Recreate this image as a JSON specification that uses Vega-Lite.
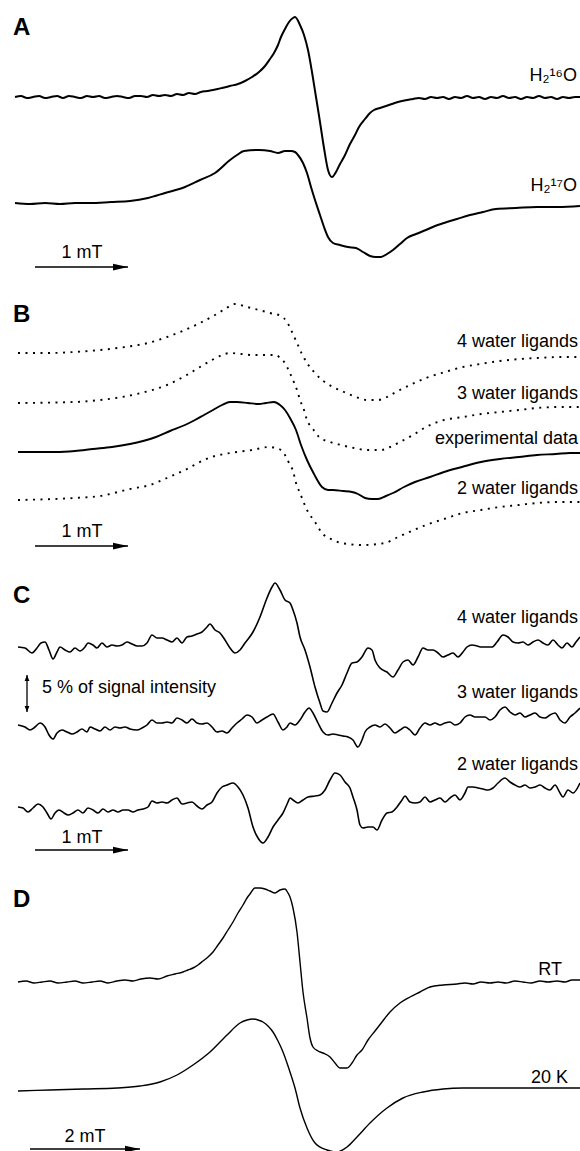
{
"$schema": "https://vega.github.io/schema/vega-lite/v6.json",
"background": "white",
"padding": 0,
"spacing": 0,
"bounds": "flush",
"config": {"view": {"stroke": null}, "font": "Liberation Sans", "text": {"font": "Liberation Sans"}},
"datasets": {
"labels": [
{"panel":"A","kind":"letter","text":"A","x":0.13,"y":25.3},
{"panel":"A","kind":"curve","text":"H₂¹⁶O","x":5.77,"y":20.7},
{"panel":"A","kind":"curve","text":"H₂¹⁷O","x":5.77,"y":9.7},
{"panel":"A","kind":"scale","text":"1 mT","x":0.82,"y":3.0},
{"panel":"B","kind":"letter","text":"B","x":0.13,"y":25.5},
{"panel":"B","kind":"curve","text":"4 water ligands","x":5.78,"y":23.0},
{"panel":"B","kind":"curve","text":"3 water ligands","x":5.78,"y":17.8},
{"panel":"B","kind":"curve","text":"experimental data","x":5.78,"y":13.3},
{"panel":"B","kind":"curve","text":"2 water ligands","x":5.78,"y":8.3},
{"panel":"B","kind":"scale","text":"1 mT","x":0.82,"y":4.0},
{"panel":"C","kind":"letter","text":"C","x":0.13,"y":26.9},
{"panel":"C","kind":"curve","text":"4 water ligands","x":5.78,"y":24.9},
{"panel":"C","kind":"curve","text":"3 water ligands","x":5.78,"y":17.4},
{"panel":"C","kind":"curve","text":"2 water ligands","x":5.78,"y":10.2},
{"panel":"C","kind":"note","text":"5 % of signal intensity","x":0.42,"y":17.9},
{"panel":"C","kind":"scale","text":"1 mT","x":0.82,"y":2.9},
{"panel":"D","kind":"letter","text":"D","x":0.13,"y":24.4},
{"panel":"D","kind":"curve","text":"RT","x":5.62,"y":17.6},
{"panel":"D","kind":"curve","text":"20 K","x":5.68,"y":6.8},
{"panel":"D","kind":"scale","text":"2 mT","x":0.85,"y":0.9}
],
"bars": [
{"panel":"A","x":0.35,"x2":1.28,"y":2.1},
{"panel":"B","x":0.35,"x2":1.28,"y":3.1},
{"panel":"C","x":0.35,"x2":1.28,"y":2.2},
{"panel":"D","x":0.30,"x2":1.40,"y":0.2}
],
"vbars": [
{"panel":"C","x":0.27,"y":16.0,"y2":19.7}
],
"curves": [
{"panel":"A","curve":"H2-16O","x":0.15,"y":19.1},{"panel":"A","curve":"H2-16O","x":0.21,"y":19.2},{"panel":"A","curve":"H2-16O","x":0.27,"y":19.0},{"panel":"A","curve":"H2-16O","x":0.33,"y":19.1},{"panel":"A","curve":"H2-16O","x":0.39,"y":19.2},{"panel":"A","curve":"H2-16O","x":0.45,"y":19.0},{"panel":"A","curve":"H2-16O","x":0.51,"y":19.1},{"panel":"A","curve":"H2-16O","x":0.57,"y":19.2},{"panel":"A","curve":"H2-16O","x":0.63,"y":19.0},{"panel":"A","curve":"H2-16O","x":0.69,"y":19.2},{"panel":"A","curve":"H2-16O","x":0.75,"y":19.1},{"panel":"A","curve":"H2-16O","x":0.81,"y":19.0},{"panel":"A","curve":"H2-16O","x":0.87,"y":19.2},{"panel":"A","curve":"H2-16O","x":0.93,"y":19.1},{"panel":"A","curve":"H2-16O","x":0.99,"y":19.2},{"panel":"A","curve":"H2-16O","x":1.05,"y":19.0},{"panel":"A","curve":"H2-16O","x":1.11,"y":19.1},{"panel":"A","curve":"H2-16O","x":1.17,"y":19.2},{"panel":"A","curve":"H2-16O","x":1.23,"y":19.1},{"panel":"A","curve":"H2-16O","x":1.29,"y":19.0},{"panel":"A","curve":"H2-16O","x":1.35,"y":19.2},{"panel":"A","curve":"H2-16O","x":1.41,"y":19.2},{"panel":"A","curve":"H2-16O","x":1.47,"y":19.1},{"panel":"A","curve":"H2-16O","x":1.53,"y":19.3},{"panel":"A","curve":"H2-16O","x":1.59,"y":19.2},{"panel":"A","curve":"H2-16O","x":1.65,"y":19.3},{"panel":"A","curve":"H2-16O","x":1.71,"y":19.2},{"panel":"A","curve":"H2-16O","x":1.77,"y":19.4},{"panel":"A","curve":"H2-16O","x":1.83,"y":19.3},{"panel":"A","curve":"H2-16O","x":1.89,"y":19.5},{"panel":"A","curve":"H2-16O","x":1.95,"y":19.4},{"panel":"A","curve":"H2-16O","x":2.01,"y":19.6},{"panel":"A","curve":"H2-16O","x":2.07,"y":19.7},{"panel":"A","curve":"H2-16O","x":2.13,"y":19.8},{"panel":"A","curve":"H2-16O","x":2.22,"y":20.0},{"panel":"A","curve":"H2-16O","x":2.30,"y":20.2},{"panel":"A","curve":"H2-16O","x":2.38,"y":20.4},{"panel":"A","curve":"H2-16O","x":2.45,"y":20.7},{"panel":"A","curve":"H2-16O","x":2.52,"y":21.1},{"panel":"A","curve":"H2-16O","x":2.59,"y":21.6},{"panel":"A","curve":"H2-16O","x":2.65,"y":22.2},{"panel":"A","curve":"H2-16O","x":2.70,"y":22.9},{"panel":"A","curve":"H2-16O","x":2.74,"y":23.5},{"panel":"A","curve":"H2-16O","x":2.78,"y":24.3},{"panel":"A","curve":"H2-16O","x":2.81,"y":25.1},{"panel":"A","curve":"H2-16O","x":2.85,"y":25.9},{"panel":"A","curve":"H2-16O","x":2.89,"y":26.6},{"panel":"A","curve":"H2-16O","x":2.93,"y":27.0},{"panel":"A","curve":"H2-16O","x":2.95,"y":27.1},{"panel":"A","curve":"H2-16O","x":3.00,"y":26.3},{"panel":"A","curve":"H2-16O","x":3.04,"y":25.3},{"panel":"A","curve":"H2-16O","x":3.08,"y":23.8},{"panel":"A","curve":"H2-16O","x":3.12,"y":21.6},{"panel":"A","curve":"H2-16O","x":3.16,"y":19.1},{"panel":"A","curve":"H2-16O","x":3.20,"y":16.6},{"panel":"A","curve":"H2-16O","x":3.24,"y":14.0},{"panel":"A","curve":"H2-16O","x":3.28,"y":11.8},{"panel":"A","curve":"H2-16O","x":3.32,"y":11.1},{"panel":"A","curve":"H2-16O","x":3.36,"y":11.6},{"panel":"A","curve":"H2-16O","x":3.40,"y":12.4},{"panel":"A","curve":"H2-16O","x":3.44,"y":13.1},{"panel":"A","curve":"H2-16O","x":3.50,"y":14.4},{"panel":"A","curve":"H2-16O","x":3.55,"y":15.3},{"panel":"A","curve":"H2-16O","x":3.59,"y":16.1},{"panel":"A","curve":"H2-16O","x":3.65,"y":16.9},{"panel":"A","curve":"H2-16O","x":3.70,"y":17.5},{"panel":"A","curve":"H2-16O","x":3.74,"y":17.8},{"panel":"A","curve":"H2-16O","x":3.80,"y":18.0},{"panel":"A","curve":"H2-16O","x":3.89,"y":18.3},{"panel":"A","curve":"H2-16O","x":3.98,"y":18.6},{"panel":"A","curve":"H2-16O","x":4.07,"y":18.8},{"panel":"A","curve":"H2-16O","x":4.13,"y":18.9},{"panel":"A","curve":"H2-16O","x":4.19,"y":19.0},{"panel":"A","curve":"H2-16O","x":4.25,"y":18.9},{"panel":"A","curve":"H2-16O","x":4.31,"y":19.1},{"panel":"A","curve":"H2-16O","x":4.37,"y":19.0},{"panel":"A","curve":"H2-16O","x":4.43,"y":19.1},{"panel":"A","curve":"H2-16O","x":4.49,"y":18.9},{"panel":"A","curve":"H2-16O","x":4.55,"y":19.1},{"panel":"A","curve":"H2-16O","x":4.61,"y":19.0},{"panel":"A","curve":"H2-16O","x":4.67,"y":19.2},{"panel":"A","curve":"H2-16O","x":4.73,"y":19.0},{"panel":"A","curve":"H2-16O","x":4.79,"y":19.1},{"panel":"A","curve":"H2-16O","x":4.85,"y":18.9},{"panel":"A","curve":"H2-16O","x":4.91,"y":19.1},{"panel":"A","curve":"H2-16O","x":4.97,"y":19.0},{"panel":"A","curve":"H2-16O","x":5.03,"y":19.2},{"panel":"A","curve":"H2-16O","x":5.09,"y":19.0},{"panel":"A","curve":"H2-16O","x":5.15,"y":19.1},{"panel":"A","curve":"H2-16O","x":5.21,"y":18.9},{"panel":"A","curve":"H2-16O","x":5.27,"y":19.1},{"panel":"A","curve":"H2-16O","x":5.33,"y":19.0},{"panel":"A","curve":"H2-16O","x":5.39,"y":19.2},{"panel":"A","curve":"H2-16O","x":5.45,"y":19.0},{"panel":"A","curve":"H2-16O","x":5.51,"y":19.1},{"panel":"A","curve":"H2-16O","x":5.57,"y":18.9},{"panel":"A","curve":"H2-16O","x":5.63,"y":19.1},{"panel":"A","curve":"H2-16O","x":5.69,"y":19.0},{"panel":"A","curve":"H2-16O","x":5.75,"y":19.1},{"panel":"A","curve":"H2-16O","x":5.80,"y":19.1},
{"panel":"A","curve":"H2-17O","x":0.15,"y":8.5},{"panel":"A","curve":"H2-17O","x":0.30,"y":8.4},{"panel":"A","curve":"H2-17O","x":0.45,"y":8.5},{"panel":"A","curve":"H2-17O","x":0.60,"y":8.4},{"panel":"A","curve":"H2-17O","x":0.75,"y":8.5},{"panel":"A","curve":"H2-17O","x":0.90,"y":8.5},{"panel":"A","curve":"H2-17O","x":1.11,"y":8.6},{"panel":"A","curve":"H2-17O","x":1.30,"y":8.7},{"panel":"A","curve":"H2-17O","x":1.48,"y":9.0},{"panel":"A","curve":"H2-17O","x":1.65,"y":9.5},{"panel":"A","curve":"H2-17O","x":1.85,"y":10.1},{"panel":"A","curve":"H2-17O","x":2.00,"y":10.8},{"panel":"A","curve":"H2-17O","x":2.15,"y":11.5},{"panel":"A","curve":"H2-17O","x":2.30,"y":12.8},{"panel":"A","curve":"H2-17O","x":2.37,"y":13.3},{"panel":"A","curve":"H2-17O","x":2.44,"y":13.7},{"panel":"A","curve":"H2-17O","x":2.59,"y":13.8},{"panel":"A","curve":"H2-17O","x":2.70,"y":13.7},{"panel":"A","curve":"H2-17O","x":2.78,"y":13.5},{"panel":"A","curve":"H2-17O","x":2.85,"y":13.7},{"panel":"A","curve":"H2-17O","x":2.91,"y":13.7},{"panel":"A","curve":"H2-17O","x":2.95,"y":13.6},{"panel":"A","curve":"H2-17O","x":2.98,"y":13.3},{"panel":"A","curve":"H2-17O","x":3.03,"y":12.5},{"panel":"A","curve":"H2-17O","x":3.07,"y":11.5},{"panel":"A","curve":"H2-17O","x":3.11,"y":10.1},{"panel":"A","curve":"H2-17O","x":3.15,"y":8.8},{"panel":"A","curve":"H2-17O","x":3.20,"y":7.3},{"panel":"A","curve":"H2-17O","x":3.24,"y":6.1},{"panel":"A","curve":"H2-17O","x":3.28,"y":5.1},{"panel":"A","curve":"H2-17O","x":3.33,"y":4.5},{"panel":"A","curve":"H2-17O","x":3.40,"y":4.3},{"panel":"A","curve":"H2-17O","x":3.48,"y":4.1},{"panel":"A","curve":"H2-17O","x":3.56,"y":4.0},{"panel":"A","curve":"H2-17O","x":3.63,"y":3.6},{"panel":"A","curve":"H2-17O","x":3.70,"y":3.2},{"panel":"A","curve":"H2-17O","x":3.76,"y":3.1},{"panel":"A","curve":"H2-17O","x":3.81,"y":3.1},{"panel":"A","curve":"H2-17O","x":3.87,"y":3.4},{"panel":"A","curve":"H2-17O","x":3.93,"y":3.8},{"panel":"A","curve":"H2-17O","x":4.00,"y":4.4},{"panel":"A","curve":"H2-17O","x":4.07,"y":5.0},{"panel":"A","curve":"H2-17O","x":4.16,"y":5.4},{"panel":"A","curve":"H2-17O","x":4.26,"y":5.8},{"panel":"A","curve":"H2-17O","x":4.35,"y":6.2},{"panel":"A","curve":"H2-17O","x":4.44,"y":6.5},{"panel":"A","curve":"H2-17O","x":4.57,"y":6.9},{"panel":"A","curve":"H2-17O","x":4.70,"y":7.3},{"panel":"A","curve":"H2-17O","x":4.83,"y":7.6},{"panel":"A","curve":"H2-17O","x":4.96,"y":7.9},{"panel":"A","curve":"H2-17O","x":5.16,"y":8.0},{"panel":"A","curve":"H2-17O","x":5.37,"y":8.1},{"panel":"A","curve":"H2-17O","x":5.58,"y":8.1},{"panel":"A","curve":"H2-17O","x":5.80,"y":8.2},
{"panel":"B","curve":"4 water","x":0.18,"y":22.4},{"panel":"B","curve":"4 water","x":0.50,"y":22.4},{"panel":"B","curve":"4 water","x":0.74,"y":22.5},{"panel":"B","curve":"4 water","x":1.00,"y":22.7},{"panel":"B","curve":"4 water","x":1.25,"y":23.0},{"panel":"B","curve":"4 water","x":1.48,"y":23.4},{"panel":"B","curve":"4 water","x":1.67,"y":24.0},{"panel":"B","curve":"4 water","x":1.85,"y":24.7},{"panel":"B","curve":"4 water","x":2.00,"y":25.4},{"panel":"B","curve":"4 water","x":2.15,"y":26.2},{"panel":"B","curve":"4 water","x":2.25,"y":26.8},{"panel":"B","curve":"4 water","x":2.35,"y":27.3},{"panel":"B","curve":"4 water","x":2.47,"y":27.0},{"panel":"B","curve":"4 water","x":2.59,"y":26.7},{"panel":"B","curve":"4 water","x":2.70,"y":26.4},{"panel":"B","curve":"4 water","x":2.81,"y":26.1},{"panel":"B","curve":"4 water","x":2.87,"y":25.5},{"panel":"B","curve":"4 water","x":2.92,"y":24.5},{"panel":"B","curve":"4 water","x":2.97,"y":23.4},{"panel":"B","curve":"4 water","x":3.02,"y":22.3},{"panel":"B","curve":"4 water","x":3.07,"y":21.4},{"panel":"B","curve":"4 water","x":3.14,"y":20.5},{"panel":"B","curve":"4 water","x":3.22,"y":19.7},{"panel":"B","curve":"4 water","x":3.33,"y":19.0},{"panel":"B","curve":"4 water","x":3.44,"y":18.5},{"panel":"B","curve":"4 water","x":3.56,"y":18.0},{"panel":"B","curve":"4 water","x":3.67,"y":17.7},{"panel":"B","curve":"4 water","x":3.78,"y":17.7},{"panel":"B","curve":"4 water","x":3.87,"y":18.0},{"panel":"B","curve":"4 water","x":3.96,"y":18.5},{"panel":"B","curve":"4 water","x":4.10,"y":19.2},{"panel":"B","curve":"4 water","x":4.26,"y":19.9},{"panel":"B","curve":"4 water","x":4.45,"y":20.5},{"panel":"B","curve":"4 water","x":4.63,"y":21.0},{"panel":"B","curve":"4 water","x":4.80,"y":21.3},{"panel":"B","curve":"4 water","x":5.00,"y":21.6},{"panel":"B","curve":"4 water","x":5.20,"y":21.8},{"panel":"B","curve":"4 water","x":5.37,"y":21.9},{"panel":"B","curve":"4 water","x":5.60,"y":22.0},{"panel":"B","curve":"4 water","x":5.80,"y":22.0},
{"panel":"B","curve":"3 water","x":0.18,"y":17.4},{"panel":"B","curve":"3 water","x":0.74,"y":17.5},{"panel":"B","curve":"3 water","x":1.00,"y":17.7},{"panel":"B","curve":"3 water","x":1.22,"y":18.0},{"panel":"B","curve":"3 water","x":1.45,"y":18.5},{"panel":"B","curve":"3 water","x":1.67,"y":19.2},{"panel":"B","curve":"3 water","x":1.85,"y":20.1},{"panel":"B","curve":"3 water","x":2.00,"y":21.0},{"panel":"B","curve":"3 water","x":2.12,"y":21.7},{"panel":"B","curve":"3 water","x":2.22,"y":22.2},{"panel":"B","curve":"3 water","x":2.30,"y":22.4},{"panel":"B","curve":"3 water","x":2.41,"y":22.3},{"panel":"B","curve":"3 water","x":2.52,"y":22.2},{"panel":"B","curve":"3 water","x":2.65,"y":22.2},{"panel":"B","curve":"3 water","x":2.76,"y":22.2},{"panel":"B","curve":"3 water","x":2.81,"y":21.8},{"panel":"B","curve":"3 water","x":2.85,"y":21.4},{"panel":"B","curve":"3 water","x":2.89,"y":20.6},{"panel":"B","curve":"3 water","x":2.93,"y":19.7},{"panel":"B","curve":"3 water","x":2.97,"y":18.7},{"panel":"B","curve":"3 water","x":3.00,"y":17.7},{"panel":"B","curve":"3 water","x":3.04,"y":16.7},{"panel":"B","curve":"3 water","x":3.07,"y":15.7},{"panel":"B","curve":"3 water","x":3.13,"y":14.8},{"panel":"B","curve":"3 water","x":3.19,"y":14.0},{"panel":"B","curve":"3 water","x":3.30,"y":13.5},{"panel":"B","curve":"3 water","x":3.41,"y":13.2},{"panel":"B","curve":"3 water","x":3.54,"y":12.9},{"panel":"B","curve":"3 water","x":3.67,"y":12.7},{"panel":"B","curve":"3 water","x":3.81,"y":12.7},{"panel":"B","curve":"3 water","x":3.90,"y":13.0},{"panel":"B","curve":"3 water","x":4.00,"y":13.5},{"panel":"B","curve":"3 water","x":4.13,"y":14.2},{"panel":"B","curve":"3 water","x":4.26,"y":15.0},{"panel":"B","curve":"3 water","x":4.44,"y":15.7},{"panel":"B","curve":"3 water","x":4.63,"y":16.0},{"panel":"B","curve":"3 water","x":4.81,"y":16.3},{"panel":"B","curve":"3 water","x":5.00,"y":16.5},{"panel":"B","curve":"3 water","x":5.19,"y":16.7},{"panel":"B","curve":"3 water","x":5.37,"y":16.9},{"panel":"B","curve":"3 water","x":5.58,"y":17.0},{"panel":"B","curve":"3 water","x":5.80,"y":17.0},
{"panel":"B","curve":"experimental","x":0.18,"y":12.5},{"panel":"B","curve":"experimental","x":0.56,"y":12.5},{"panel":"B","curve":"experimental","x":0.75,"y":12.6},{"panel":"B","curve":"experimental","x":0.93,"y":12.8},{"panel":"B","curve":"experimental","x":1.12,"y":13.0},{"panel":"B","curve":"experimental","x":1.30,"y":13.3},{"panel":"B","curve":"experimental","x":1.43,"y":13.6},{"panel":"B","curve":"experimental","x":1.56,"y":14.0},{"panel":"B","curve":"experimental","x":1.70,"y":14.6},{"panel":"B","curve":"experimental","x":1.85,"y":15.2},{"panel":"B","curve":"experimental","x":1.95,"y":15.7},{"panel":"B","curve":"experimental","x":2.04,"y":16.2},{"panel":"B","curve":"experimental","x":2.13,"y":16.7},{"panel":"B","curve":"experimental","x":2.22,"y":17.2},{"panel":"B","curve":"experimental","x":2.30,"y":17.5},{"panel":"B","curve":"experimental","x":2.37,"y":17.5},{"panel":"B","curve":"experimental","x":2.48,"y":17.4},{"panel":"B","curve":"experimental","x":2.59,"y":17.3},{"panel":"B","curve":"experimental","x":2.66,"y":17.4},{"panel":"B","curve":"experimental","x":2.74,"y":17.5},{"panel":"B","curve":"experimental","x":2.80,"y":17.2},{"panel":"B","curve":"experimental","x":2.85,"y":16.7},{"panel":"B","curve":"experimental","x":2.90,"y":15.9},{"panel":"B","curve":"experimental","x":2.96,"y":14.7},{"panel":"B","curve":"experimental","x":3.01,"y":13.2},{"panel":"B","curve":"experimental","x":3.07,"y":11.7},{"panel":"B","curve":"experimental","x":3.14,"y":10.3},{"panel":"B","curve":"experimental","x":3.22,"y":9.0},{"panel":"B","curve":"experimental","x":3.28,"y":8.7},{"panel":"B","curve":"experimental","x":3.33,"y":8.7},{"panel":"B","curve":"experimental","x":3.43,"y":8.6},{"panel":"B","curve":"experimental","x":3.52,"y":8.5},{"panel":"B","curve":"experimental","x":3.58,"y":8.3},{"panel":"B","curve":"experimental","x":3.65,"y":7.9},{"panel":"B","curve":"experimental","x":3.72,"y":7.8},{"panel":"B","curve":"experimental","x":3.78,"y":7.8},{"panel":"B","curve":"experimental","x":3.86,"y":8.1},{"panel":"B","curve":"experimental","x":3.93,"y":8.4},{"panel":"B","curve":"experimental","x":4.04,"y":9.0},{"panel":"B","curve":"experimental","x":4.15,"y":9.5},{"panel":"B","curve":"experimental","x":4.30,"y":10.0},{"panel":"B","curve":"experimental","x":4.44,"y":10.5},{"panel":"B","curve":"experimental","x":4.62,"y":11.0},{"panel":"B","curve":"experimental","x":4.81,"y":11.5},{"panel":"B","curve":"experimental","x":5.00,"y":11.8},{"panel":"B","curve":"experimental","x":5.19,"y":12.0},{"panel":"B","curve":"experimental","x":5.37,"y":12.2},{"panel":"B","curve":"experimental","x":5.56,"y":12.3},{"panel":"B","curve":"experimental","x":5.70,"y":12.4},{"panel":"B","curve":"experimental","x":5.80,"y":12.4},
{"panel":"B","curve":"2 water","x":0.18,"y":7.7},{"panel":"B","curve":"2 water","x":0.74,"y":7.9},{"panel":"B","curve":"2 water","x":1.00,"y":8.1},{"panel":"B","curve":"2 water","x":1.30,"y":8.8},{"panel":"B","curve":"2 water","x":1.50,"y":9.2},{"panel":"B","curve":"2 water","x":1.67,"y":9.9},{"panel":"B","curve":"2 water","x":1.85,"y":10.7},{"panel":"B","curve":"2 water","x":2.04,"y":11.7},{"panel":"B","curve":"2 water","x":2.15,"y":12.1},{"panel":"B","curve":"2 water","x":2.30,"y":12.4},{"panel":"B","curve":"2 water","x":2.52,"y":12.7},{"panel":"B","curve":"2 water","x":2.69,"y":13.0},{"panel":"B","curve":"2 water","x":2.81,"y":12.7},{"panel":"B","curve":"2 water","x":2.85,"y":12.2},{"panel":"B","curve":"2 water","x":2.89,"y":11.4},{"panel":"B","curve":"2 water","x":2.93,"y":10.6},{"panel":"B","curve":"2 water","x":2.96,"y":9.4},{"panel":"B","curve":"2 water","x":3.00,"y":8.4},{"panel":"B","curve":"2 water","x":3.07,"y":6.7},{"panel":"B","curve":"2 water","x":3.15,"y":5.5},{"panel":"B","curve":"2 water","x":3.22,"y":4.4},{"panel":"B","curve":"2 water","x":3.33,"y":3.7},{"panel":"B","curve":"2 water","x":3.41,"y":3.4},{"panel":"B","curve":"2 water","x":3.63,"y":3.2},{"panel":"B","curve":"2 water","x":3.85,"y":3.4},{"panel":"B","curve":"2 water","x":3.96,"y":3.9},{"panel":"B","curve":"2 water","x":4.07,"y":4.4},{"panel":"B","curve":"2 water","x":4.26,"y":5.2},{"panel":"B","curve":"2 water","x":4.44,"y":5.8},{"panel":"B","curve":"2 water","x":4.63,"y":6.4},{"panel":"B","curve":"2 water","x":4.81,"y":6.7},{"panel":"B","curve":"2 water","x":5.00,"y":7.0},{"panel":"B","curve":"2 water","x":5.19,"y":7.2},{"panel":"B","curve":"2 water","x":5.37,"y":7.4},{"panel":"B","curve":"2 water","x":5.58,"y":7.5},{"panel":"B","curve":"2 water","x":5.80,"y":7.5},
{"panel":"C","curve":"4 water","x":0.18,"y":22.5},{"panel":"C","curve":"4 water","x":0.25,"y":22.4},{"panel":"C","curve":"4 water","x":0.32,"y":21.9},{"panel":"C","curve":"4 water","x":0.37,"y":22.4},{"panel":"C","curve":"4 water","x":0.41,"y":22.9},{"panel":"C","curve":"4 water","x":0.45,"y":23.0},{"panel":"C","curve":"4 water","x":0.49,"y":22.2},{"panel":"C","curve":"4 water","x":0.53,"y":21.3},{"panel":"C","curve":"4 water","x":0.57,"y":22.0},{"panel":"C","curve":"4 water","x":0.60,"y":22.5},{"panel":"C","curve":"4 water","x":0.65,"y":22.2},{"panel":"C","curve":"4 water","x":0.70,"y":22.0},{"panel":"C","curve":"4 water","x":0.75,"y":22.4},{"panel":"C","curve":"4 water","x":0.80,"y":22.1},{"panel":"C","curve":"4 water","x":0.85,"y":22.5},{"panel":"C","curve":"4 water","x":0.88,"y":22.9},{"panel":"C","curve":"4 water","x":0.93,"y":22.7},{"panel":"C","curve":"4 water","x":0.97,"y":22.4},{"panel":"C","curve":"4 water","x":1.02,"y":22.9},{"panel":"C","curve":"4 water","x":1.07,"y":22.5},{"panel":"C","curve":"4 water","x":1.12,"y":22.7},{"panel":"C","curve":"4 water","x":1.17,"y":22.6},{"panel":"C","curve":"4 water","x":1.22,"y":22.7},{"panel":"C","curve":"4 water","x":1.27,"y":23.0},{"panel":"C","curve":"4 water","x":1.32,"y":22.8},{"panel":"C","curve":"4 water","x":1.37,"y":22.6},{"panel":"C","curve":"4 water","x":1.42,"y":22.6},{"panel":"C","curve":"4 water","x":1.47,"y":22.9},{"panel":"C","curve":"4 water","x":1.52,"y":23.7},{"panel":"C","curve":"4 water","x":1.57,"y":23.4},{"panel":"C","curve":"4 water","x":1.62,"y":23.4},{"panel":"C","curve":"4 water","x":1.67,"y":23.2},{"panel":"C","curve":"4 water","x":1.72,"y":23.0},{"panel":"C","curve":"4 water","x":1.77,"y":23.4},{"panel":"C","curve":"4 water","x":1.82,"y":22.9},{"panel":"C","curve":"4 water","x":1.87,"y":23.5},{"panel":"C","curve":"4 water","x":1.92,"y":23.6},{"panel":"C","curve":"4 water","x":1.97,"y":23.8},{"panel":"C","curve":"4 water","x":2.02,"y":24.0},{"panel":"C","curve":"4 water","x":2.07,"y":24.5},{"panel":"C","curve":"4 water","x":2.10,"y":24.8},{"panel":"C","curve":"4 water","x":2.15,"y":24.2},{"panel":"C","curve":"4 water","x":2.20,"y":23.9},{"panel":"C","curve":"4 water","x":2.25,"y":23.2},{"panel":"C","curve":"4 water","x":2.30,"y":22.4},{"panel":"C","curve":"4 water","x":2.35,"y":21.9},{"panel":"C","curve":"4 water","x":2.40,"y":22.2},{"panel":"C","curve":"4 water","x":2.45,"y":22.9},{"panel":"C","curve":"4 water","x":2.53,"y":24.0},{"panel":"C","curve":"4 water","x":2.60,"y":25.5},{"panel":"C","curve":"4 water","x":2.67,"y":27.4},{"panel":"C","curve":"4 water","x":2.72,"y":28.5},{"panel":"C","curve":"4 water","x":2.75,"y":28.9},{"panel":"C","curve":"4 water","x":2.80,"y":28.2},{"panel":"C","curve":"4 water","x":2.85,"y":27.2},{"panel":"C","curve":"4 water","x":2.90,"y":26.9},{"panel":"C","curve":"4 water","x":2.93,"y":26.2},{"panel":"C","curve":"4 water","x":2.97,"y":24.9},{"panel":"C","curve":"4 water","x":3.00,"y":23.5},{"panel":"C","curve":"4 water","x":3.05,"y":22.2},{"panel":"C","curve":"4 water","x":3.10,"y":20.5},{"panel":"C","curve":"4 water","x":3.15,"y":18.5},{"panel":"C","curve":"4 water","x":3.20,"y":16.9},{"panel":"C","curve":"4 water","x":3.23,"y":16.1},{"panel":"C","curve":"4 water","x":3.27,"y":16.0},{"panel":"C","curve":"4 water","x":3.32,"y":16.9},{"panel":"C","curve":"4 water","x":3.37,"y":17.9},{"panel":"C","curve":"4 water","x":3.42,"y":18.7},{"panel":"C","curve":"4 water","x":3.47,"y":19.9},{"panel":"C","curve":"4 water","x":3.52,"y":20.9},{"panel":"C","curve":"4 water","x":3.57,"y":21.0},{"panel":"C","curve":"4 water","x":3.62,"y":21.5},{"panel":"C","curve":"4 water","x":3.68,"y":22.4},{"panel":"C","curve":"4 water","x":3.72,"y":22.2},{"panel":"C","curve":"4 water","x":3.75,"y":21.2},{"panel":"C","curve":"4 water","x":3.80,"y":20.4},{"panel":"C","curve":"4 water","x":3.87,"y":20.0},{"panel":"C","curve":"4 water","x":3.93,"y":19.5},{"panel":"C","curve":"4 water","x":3.98,"y":20.2},{"panel":"C","curve":"4 water","x":4.03,"y":21.0},{"panel":"C","curve":"4 water","x":4.08,"y":21.2},{"panel":"C","curve":"4 water","x":4.13,"y":20.7},{"panel":"C","curve":"4 water","x":4.18,"y":21.5},{"panel":"C","curve":"4 water","x":4.23,"y":22.4},{"panel":"C","curve":"4 water","x":4.28,"y":22.2},{"panel":"C","curve":"4 water","x":4.33,"y":22.2},{"panel":"C","curve":"4 water","x":4.38,"y":21.9},{"panel":"C","curve":"4 water","x":4.43,"y":21.5},{"panel":"C","curve":"4 water","x":4.48,"y":21.7},{"panel":"C","curve":"4 water","x":4.53,"y":21.9},{"panel":"C","curve":"4 water","x":4.58,"y":21.5},{"panel":"C","curve":"4 water","x":4.63,"y":22.0},{"panel":"C","curve":"4 water","x":4.67,"y":22.5},{"panel":"C","curve":"4 water","x":4.72,"y":22.7},{"panel":"C","curve":"4 water","x":4.77,"y":22.6},{"panel":"C","curve":"4 water","x":4.82,"y":22.5},{"panel":"C","curve":"4 water","x":4.87,"y":22.5},{"panel":"C","curve":"4 water","x":4.92,"y":22.5},{"panel":"C","curve":"4 water","x":4.97,"y":23.0},{"panel":"C","curve":"4 water","x":5.03,"y":23.7},{"panel":"C","curve":"4 water","x":5.08,"y":23.5},{"panel":"C","curve":"4 water","x":5.13,"y":23.0},{"panel":"C","curve":"4 water","x":5.18,"y":22.9},{"panel":"C","curve":"4 water","x":5.23,"y":23.0},{"panel":"C","curve":"4 water","x":5.28,"y":22.7},{"panel":"C","curve":"4 water","x":5.33,"y":23.0},{"panel":"C","curve":"4 water","x":5.38,"y":23.2},{"panel":"C","curve":"4 water","x":5.43,"y":22.9},{"panel":"C","curve":"4 water","x":5.48,"y":22.7},{"panel":"C","curve":"4 water","x":5.53,"y":23.2},{"panel":"C","curve":"4 water","x":5.58,"y":22.7},{"panel":"C","curve":"4 water","x":5.62,"y":22.4},{"panel":"C","curve":"4 water","x":5.67,"y":22.9},{"panel":"C","curve":"4 water","x":5.72,"y":22.5},{"panel":"C","curve":"4 water","x":5.76,"y":23.0},{"panel":"C","curve":"4 water","x":5.80,"y":23.5},
{"panel":"C","curve":"3 water","x":0.18,"y":14.7},{"panel":"C","curve":"3 water","x":0.25,"y":14.5},{"panel":"C","curve":"3 water","x":0.30,"y":14.2},{"panel":"C","curve":"3 water","x":0.35,"y":14.5},{"panel":"C","curve":"3 water","x":0.40,"y":14.9},{"panel":"C","curve":"3 water","x":0.45,"y":14.5},{"panel":"C","curve":"3 water","x":0.49,"y":13.7},{"panel":"C","curve":"3 water","x":0.53,"y":13.3},{"panel":"C","curve":"3 water","x":0.57,"y":13.9},{"panel":"C","curve":"3 water","x":0.62,"y":14.2},{"panel":"C","curve":"3 water","x":0.67,"y":14.0},{"panel":"C","curve":"3 water","x":0.72,"y":13.8},{"panel":"C","curve":"3 water","x":0.77,"y":14.0},{"panel":"C","curve":"3 water","x":0.82,"y":14.3},{"panel":"C","curve":"3 water","x":0.87,"y":14.0},{"panel":"C","curve":"3 water","x":0.90,"y":14.5},{"panel":"C","curve":"3 water","x":0.95,"y":14.3},{"panel":"C","curve":"3 water","x":1.00,"y":14.1},{"panel":"C","curve":"3 water","x":1.05,"y":14.5},{"panel":"C","curve":"3 water","x":1.10,"y":14.2},{"panel":"C","curve":"3 water","x":1.15,"y":14.5},{"panel":"C","curve":"3 water","x":1.20,"y":14.4},{"panel":"C","curve":"3 water","x":1.25,"y":14.5},{"panel":"C","curve":"3 water","x":1.30,"y":14.3},{"panel":"C","curve":"3 water","x":1.37,"y":14.2},{"panel":"C","curve":"3 water","x":1.42,"y":14.4},{"panel":"C","curve":"3 water","x":1.47,"y":14.7},{"panel":"C","curve":"3 water","x":1.52,"y":15.2},{"panel":"C","curve":"3 water","x":1.57,"y":14.9},{"panel":"C","curve":"3 water","x":1.62,"y":14.9},{"panel":"C","curve":"3 water","x":1.67,"y":15.0},{"panel":"C","curve":"3 water","x":1.72,"y":14.9},{"panel":"C","curve":"3 water","x":1.77,"y":15.4},{"panel":"C","curve":"3 water","x":1.82,"y":15.2},{"panel":"C","curve":"3 water","x":1.87,"y":14.9},{"panel":"C","curve":"3 water","x":1.92,"y":15.3},{"panel":"C","curve":"3 water","x":1.97,"y":14.9},{"panel":"C","curve":"3 water","x":2.02,"y":14.8},{"panel":"C","curve":"3 water","x":2.07,"y":14.9},{"panel":"C","curve":"3 water","x":2.12,"y":14.5},{"panel":"C","curve":"3 water","x":2.17,"y":14.0},{"panel":"C","curve":"3 water","x":2.22,"y":14.1},{"panel":"C","curve":"3 water","x":2.27,"y":13.9},{"panel":"C","curve":"3 water","x":2.32,"y":14.4},{"panel":"C","curve":"3 water","x":2.37,"y":14.9},{"panel":"C","curve":"3 water","x":2.42,"y":15.3},{"panel":"C","curve":"3 water","x":2.47,"y":15.7},{"panel":"C","curve":"3 water","x":2.52,"y":15.5},{"panel":"C","curve":"3 water","x":2.57,"y":14.9},{"panel":"C","curve":"3 water","x":2.62,"y":15.2},{"panel":"C","curve":"3 water","x":2.67,"y":15.5},{"panel":"C","curve":"3 water","x":2.73,"y":15.8},{"panel":"C","curve":"3 water","x":2.78,"y":15.0},{"panel":"C","curve":"3 water","x":2.83,"y":14.2},{"panel":"C","curve":"3 water","x":2.87,"y":14.5},{"panel":"C","curve":"3 water","x":2.90,"y":14.9},{"panel":"C","curve":"3 water","x":2.95,"y":14.7},{"panel":"C","curve":"3 water","x":3.00,"y":15.2},{"panel":"C","curve":"3 water","x":3.05,"y":16.0},{"panel":"C","curve":"3 water","x":3.09,"y":16.4},{"panel":"C","curve":"3 water","x":3.13,"y":15.9},{"panel":"C","curve":"3 water","x":3.18,"y":14.9},{"panel":"C","curve":"3 water","x":3.23,"y":14.0},{"panel":"C","curve":"3 water","x":3.28,"y":13.7},{"panel":"C","curve":"3 water","x":3.33,"y":13.8},{"panel":"C","curve":"3 water","x":3.38,"y":13.7},{"panel":"C","curve":"3 water","x":3.43,"y":13.6},{"panel":"C","curve":"3 water","x":3.48,"y":13.5},{"panel":"C","curve":"3 water","x":3.53,"y":13.2},{"panel":"C","curve":"3 water","x":3.58,"y":12.5},{"panel":"C","curve":"3 water","x":3.62,"y":13.2},{"panel":"C","curve":"3 water","x":3.65,"y":14.0},{"panel":"C","curve":"3 water","x":3.70,"y":14.5},{"panel":"C","curve":"3 water","x":3.75,"y":14.7},{"panel":"C","curve":"3 water","x":3.80,"y":14.5},{"panel":"C","curve":"3 water","x":3.85,"y":14.8},{"panel":"C","curve":"3 water","x":3.90,"y":14.4},{"panel":"C","curve":"3 water","x":3.95,"y":13.9},{"panel":"C","curve":"3 water","x":4.00,"y":14.2},{"panel":"C","curve":"3 water","x":4.05,"y":14.5},{"panel":"C","curve":"3 water","x":4.10,"y":14.2},{"panel":"C","curve":"3 water","x":4.15,"y":13.7},{"panel":"C","curve":"3 water","x":4.20,"y":14.4},{"panel":"C","curve":"3 water","x":4.25,"y":14.9},{"panel":"C","curve":"3 water","x":4.30,"y":14.7},{"panel":"C","curve":"3 water","x":4.35,"y":14.9},{"panel":"C","curve":"3 water","x":4.40,"y":14.7},{"panel":"C","curve":"3 water","x":4.45,"y":14.9},{"panel":"C","curve":"3 water","x":4.50,"y":15.0},{"panel":"C","curve":"3 water","x":4.55,"y":14.7},{"panel":"C","curve":"3 water","x":4.60,"y":14.9},{"panel":"C","curve":"3 water","x":4.65,"y":15.5},{"panel":"C","curve":"3 water","x":4.70,"y":15.7},{"panel":"C","curve":"3 water","x":4.75,"y":15.5},{"panel":"C","curve":"3 water","x":4.80,"y":15.5},{"panel":"C","curve":"3 water","x":4.85,"y":15.5},{"panel":"C","curve":"3 water","x":4.90,"y":15.2},{"panel":"C","curve":"3 water","x":4.95,"y":15.5},{"panel":"C","curve":"3 water","x":5.00,"y":16.2},{"panel":"C","curve":"3 water","x":5.05,"y":16.5},{"panel":"C","curve":"3 water","x":5.10,"y":16.0},{"panel":"C","curve":"3 water","x":5.15,"y":15.7},{"panel":"C","curve":"3 water","x":5.20,"y":15.9},{"panel":"C","curve":"3 water","x":5.25,"y":15.5},{"panel":"C","curve":"3 water","x":5.30,"y":15.7},{"panel":"C","curve":"3 water","x":5.35,"y":15.9},{"panel":"C","curve":"3 water","x":5.40,"y":15.5},{"panel":"C","curve":"3 water","x":5.45,"y":15.4},{"panel":"C","curve":"3 water","x":5.50,"y":15.7},{"panel":"C","curve":"3 water","x":5.55,"y":15.9},{"panel":"C","curve":"3 water","x":5.60,"y":15.2},{"panel":"C","curve":"3 water","x":5.65,"y":14.9},{"panel":"C","curve":"3 water","x":5.70,"y":15.5},{"panel":"C","curve":"3 water","x":5.75,"y":15.9},{"panel":"C","curve":"3 water","x":5.80,"y":16.4},
{"panel":"C","curve":"2 water","x":0.18,"y":6.5},{"panel":"C","curve":"2 water","x":0.23,"y":6.4},{"panel":"C","curve":"2 water","x":0.28,"y":6.0},{"panel":"C","curve":"2 water","x":0.33,"y":6.4},{"panel":"C","curve":"2 water","x":0.38,"y":6.8},{"panel":"C","curve":"2 water","x":0.43,"y":6.5},{"panel":"C","curve":"2 water","x":0.47,"y":5.9},{"panel":"C","curve":"2 water","x":0.51,"y":5.3},{"panel":"C","curve":"2 water","x":0.55,"y":5.9},{"panel":"C","curve":"2 water","x":0.59,"y":6.2},{"panel":"C","curve":"2 water","x":0.64,"y":5.9},{"panel":"C","curve":"2 water","x":0.68,"y":5.7},{"panel":"C","curve":"2 water","x":0.73,"y":5.9},{"panel":"C","curve":"2 water","x":0.78,"y":6.2},{"panel":"C","curve":"2 water","x":0.83,"y":5.9},{"panel":"C","curve":"2 water","x":0.88,"y":6.4},{"panel":"C","curve":"2 water","x":0.93,"y":6.2},{"panel":"C","curve":"2 water","x":0.98,"y":5.9},{"panel":"C","curve":"2 water","x":1.03,"y":6.3},{"panel":"C","curve":"2 water","x":1.08,"y":6.0},{"panel":"C","curve":"2 water","x":1.13,"y":6.2},{"panel":"C","curve":"2 water","x":1.18,"y":6.0},{"panel":"C","curve":"2 water","x":1.23,"y":6.2},{"panel":"C","curve":"2 water","x":1.28,"y":6.2},{"panel":"C","curve":"2 water","x":1.33,"y":6.0},{"panel":"C","curve":"2 water","x":1.38,"y":6.2},{"panel":"C","curve":"2 water","x":1.43,"y":6.3},{"panel":"C","curve":"2 water","x":1.48,"y":6.5},{"panel":"C","curve":"2 water","x":1.52,"y":7.1},{"panel":"C","curve":"2 water","x":1.57,"y":6.9},{"panel":"C","curve":"2 water","x":1.62,"y":7.0},{"panel":"C","curve":"2 water","x":1.67,"y":6.9},{"panel":"C","curve":"2 water","x":1.72,"y":7.2},{"panel":"C","curve":"2 water","x":1.77,"y":7.4},{"panel":"C","curve":"2 water","x":1.82,"y":6.8},{"panel":"C","curve":"2 water","x":1.87,"y":6.9},{"panel":"C","curve":"2 water","x":1.92,"y":7.0},{"panel":"C","curve":"2 water","x":1.97,"y":6.6},{"panel":"C","curve":"2 water","x":2.02,"y":6.3},{"panel":"C","curve":"2 water","x":2.07,"y":6.7},{"panel":"C","curve":"2 water","x":2.12,"y":7.0},{"panel":"C","curve":"2 water","x":2.17,"y":7.9},{"panel":"C","curve":"2 water","x":2.22,"y":8.5},{"panel":"C","curve":"2 water","x":2.27,"y":8.7},{"panel":"C","curve":"2 water","x":2.33,"y":8.9},{"panel":"C","curve":"2 water","x":2.38,"y":8.5},{"panel":"C","curve":"2 water","x":2.43,"y":7.7},{"panel":"C","curve":"2 water","x":2.48,"y":6.4},{"panel":"C","curve":"2 water","x":2.53,"y":4.5},{"panel":"C","curve":"2 water","x":2.58,"y":3.4},{"panel":"C","curve":"2 water","x":2.63,"y":2.9},{"panel":"C","curve":"2 water","x":2.68,"y":3.5},{"panel":"C","curve":"2 water","x":2.73,"y":4.5},{"panel":"C","curve":"2 water","x":2.78,"y":5.2},{"panel":"C","curve":"2 water","x":2.83,"y":5.9},{"panel":"C","curve":"2 water","x":2.88,"y":7.0},{"panel":"C","curve":"2 water","x":2.90,"y":7.4},{"panel":"C","curve":"2 water","x":2.93,"y":7.2},{"panel":"C","curve":"2 water","x":2.98,"y":6.9},{"panel":"C","curve":"2 water","x":3.03,"y":7.2},{"panel":"C","curve":"2 water","x":3.08,"y":7.5},{"panel":"C","curve":"2 water","x":3.15,"y":7.6},{"panel":"C","curve":"2 water","x":3.20,"y":7.7},{"panel":"C","curve":"2 water","x":3.25,"y":8.2},{"panel":"C","curve":"2 water","x":3.30,"y":9.2},{"panel":"C","curve":"2 water","x":3.35,"y":9.9},{"panel":"C","curve":"2 water","x":3.40,"y":9.7},{"panel":"C","curve":"2 water","x":3.45,"y":9.0},{"panel":"C","curve":"2 water","x":3.50,"y":8.4},{"panel":"C","curve":"2 water","x":3.53,"y":7.5},{"panel":"C","curve":"2 water","x":3.57,"y":6.2},{"panel":"C","curve":"2 water","x":3.60,"y":4.7},{"panel":"C","curve":"2 water","x":3.63,"y":4.4},{"panel":"C","curve":"2 water","x":3.68,"y":4.5},{"panel":"C","curve":"2 water","x":3.73,"y":4.5},{"panel":"C","curve":"2 water","x":3.77,"y":4.2},{"panel":"C","curve":"2 water","x":3.82,"y":5.2},{"panel":"C","curve":"2 water","x":3.87,"y":5.9},{"panel":"C","curve":"2 water","x":3.92,"y":6.0},{"panel":"C","curve":"2 water","x":3.97,"y":6.5},{"panel":"C","curve":"2 water","x":4.02,"y":7.2},{"panel":"C","curve":"2 water","x":4.05,"y":7.6},{"panel":"C","curve":"2 water","x":4.10,"y":7.0},{"panel":"C","curve":"2 water","x":4.15,"y":6.9},{"panel":"C","curve":"2 water","x":4.20,"y":7.0},{"panel":"C","curve":"2 water","x":4.25,"y":7.5},{"panel":"C","curve":"2 water","x":4.30,"y":7.0},{"panel":"C","curve":"2 water","x":4.35,"y":7.2},{"panel":"C","curve":"2 water","x":4.40,"y":7.4},{"panel":"C","curve":"2 water","x":4.45,"y":7.0},{"panel":"C","curve":"2 water","x":4.50,"y":7.4},{"panel":"C","curve":"2 water","x":4.55,"y":7.7},{"panel":"C","curve":"2 water","x":4.60,"y":7.2},{"panel":"C","curve":"2 water","x":4.65,"y":7.9},{"panel":"C","curve":"2 water","x":4.68,"y":8.5},{"panel":"C","curve":"2 water","x":4.73,"y":8.5},{"panel":"C","curve":"2 water","x":4.78,"y":8.4},{"panel":"C","curve":"2 water","x":4.83,"y":8.3},{"panel":"C","curve":"2 water","x":4.88,"y":8.2},{"panel":"C","curve":"2 water","x":4.93,"y":8.4},{"panel":"C","curve":"2 water","x":4.98,"y":8.9},{"panel":"C","curve":"2 water","x":5.05,"y":9.4},{"panel":"C","curve":"2 water","x":5.10,"y":9.0},{"panel":"C","curve":"2 water","x":5.15,"y":8.7},{"panel":"C","curve":"2 water","x":5.20,"y":8.5},{"panel":"C","curve":"2 water","x":5.25,"y":8.7},{"panel":"C","curve":"2 water","x":5.30,"y":8.4},{"panel":"C","curve":"2 water","x":5.35,"y":8.5},{"panel":"C","curve":"2 water","x":5.40,"y":8.7},{"panel":"C","curve":"2 water","x":5.45,"y":8.4},{"panel":"C","curve":"2 water","x":5.50,"y":8.2},{"panel":"C","curve":"2 water","x":5.55,"y":8.7},{"panel":"C","curve":"2 water","x":5.60,"y":7.9},{"panel":"C","curve":"2 water","x":5.63,"y":7.5},{"panel":"C","curve":"2 water","x":5.68,"y":8.2},{"panel":"C","curve":"2 water","x":5.73,"y":7.9},{"panel":"C","curve":"2 water","x":5.80,"y":8.9},
{"panel":"D","curve":"RT","x":0.18,"y":16.9},{"panel":"D","curve":"RT","x":0.26,"y":17.0},{"panel":"D","curve":"RT","x":0.34,"y":16.8},{"panel":"D","curve":"RT","x":0.42,"y":16.9},{"panel":"D","curve":"RT","x":0.50,"y":17.0},{"panel":"D","curve":"RT","x":0.58,"y":16.8},{"panel":"D","curve":"RT","x":0.67,"y":16.9},{"panel":"D","curve":"RT","x":0.75,"y":17.0},{"panel":"D","curve":"RT","x":0.83,"y":16.8},{"panel":"D","curve":"RT","x":0.92,"y":16.9},{"panel":"D","curve":"RT","x":1.00,"y":17.0},{"panel":"D","curve":"RT","x":1.08,"y":16.8},{"panel":"D","curve":"RT","x":1.17,"y":17.0},{"panel":"D","curve":"RT","x":1.25,"y":17.1},{"panel":"D","curve":"RT","x":1.33,"y":17.0},{"panel":"D","curve":"RT","x":1.41,"y":17.2},{"panel":"D","curve":"RT","x":1.50,"y":17.3},{"panel":"D","curve":"RT","x":1.58,"y":17.2},{"panel":"D","curve":"RT","x":1.67,"y":17.5},{"panel":"D","curve":"RT","x":1.75,"y":17.7},{"panel":"D","curve":"RT","x":1.83,"y":17.9},{"panel":"D","curve":"RT","x":1.88,"y":18.1},{"panel":"D","curve":"RT","x":1.93,"y":18.3},{"panel":"D","curve":"RT","x":1.98,"y":18.6},{"panel":"D","curve":"RT","x":2.03,"y":19.0},{"panel":"D","curve":"RT","x":2.08,"y":19.4},{"panel":"D","curve":"RT","x":2.13,"y":19.9},{"panel":"D","curve":"RT","x":2.18,"y":20.6},{"panel":"D","curve":"RT","x":2.23,"y":21.3},{"panel":"D","curve":"RT","x":2.28,"y":22.1},{"panel":"D","curve":"RT","x":2.33,"y":22.9},{"panel":"D","curve":"RT","x":2.38,"y":23.8},{"panel":"D","curve":"RT","x":2.43,"y":24.6},{"panel":"D","curve":"RT","x":2.47,"y":25.3},{"panel":"D","curve":"RT","x":2.50,"y":25.7},{"panel":"D","curve":"RT","x":2.55,"y":26.3},{"panel":"D","curve":"RT","x":2.60,"y":26.3},{"panel":"D","curve":"RT","x":2.65,"y":26.2},{"panel":"D","curve":"RT","x":2.70,"y":26.0},{"panel":"D","curve":"RT","x":2.75,"y":25.8},{"panel":"D","curve":"RT","x":2.80,"y":26.1},{"panel":"D","curve":"RT","x":2.85,"y":26.2},{"panel":"D","curve":"RT","x":2.88,"y":25.8},{"panel":"D","curve":"RT","x":2.90,"y":25.4},{"panel":"D","curve":"RT","x":2.93,"y":24.3},{"panel":"D","curve":"RT","x":2.97,"y":21.9},{"panel":"D","curve":"RT","x":3.00,"y":18.9},{"panel":"D","curve":"RT","x":3.03,"y":15.9},{"panel":"D","curve":"RT","x":3.07,"y":13.3},{"panel":"D","curve":"RT","x":3.10,"y":11.3},{"panel":"D","curve":"RT","x":3.13,"y":10.4},{"panel":"D","curve":"RT","x":3.18,"y":10.0},{"panel":"D","curve":"RT","x":3.23,"y":9.8},{"panel":"D","curve":"RT","x":3.30,"y":9.4},{"panel":"D","curve":"RT","x":3.35,"y":8.8},{"panel":"D","curve":"RT","x":3.40,"y":8.3},{"panel":"D","curve":"RT","x":3.47,"y":8.3},{"panel":"D","curve":"RT","x":3.52,"y":8.8},{"panel":"D","curve":"RT","x":3.57,"y":9.6},{"panel":"D","curve":"RT","x":3.62,"y":10.1},{"panel":"D","curve":"RT","x":3.68,"y":11.1},{"panel":"D","curve":"RT","x":3.75,"y":12.0},{"panel":"D","curve":"RT","x":3.82,"y":12.9},{"panel":"D","curve":"RT","x":3.90,"y":13.9},{"panel":"D","curve":"RT","x":4.00,"y":14.8},{"panel":"D","curve":"RT","x":4.10,"y":15.4},{"panel":"D","curve":"RT","x":4.20,"y":15.9},{"panel":"D","curve":"RT","x":4.30,"y":16.4},{"panel":"D","curve":"RT","x":4.43,"y":16.6},{"panel":"D","curve":"RT","x":4.57,"y":16.7},{"panel":"D","curve":"RT","x":4.65,"y":16.8},{"panel":"D","curve":"RT","x":4.73,"y":16.7},{"panel":"D","curve":"RT","x":4.81,"y":16.9},{"panel":"D","curve":"RT","x":4.90,"y":16.8},{"panel":"D","curve":"RT","x":4.98,"y":16.9},{"panel":"D","curve":"RT","x":5.06,"y":16.8},{"panel":"D","curve":"RT","x":5.15,"y":17.0},{"panel":"D","curve":"RT","x":5.23,"y":16.9},{"panel":"D","curve":"RT","x":5.31,"y":16.8},{"panel":"D","curve":"RT","x":5.40,"y":17.0},{"panel":"D","curve":"RT","x":5.48,"y":16.9},{"panel":"D","curve":"RT","x":5.57,"y":17.0},{"panel":"D","curve":"RT","x":5.65,"y":16.9},{"panel":"D","curve":"RT","x":5.72,"y":17.1},{"panel":"D","curve":"RT","x":5.80,"y":17.1},
{"panel":"D","curve":"20 K","x":0.18,"y":6.0},{"panel":"D","curve":"20 K","x":0.50,"y":6.1},{"panel":"D","curve":"20 K","x":0.83,"y":6.2},{"panel":"D","curve":"20 K","x":1.17,"y":6.3},{"panel":"D","curve":"20 K","x":1.40,"y":6.5},{"panel":"D","curve":"20 K","x":1.60,"y":6.9},{"panel":"D","curve":"20 K","x":1.77,"y":7.6},{"panel":"D","curve":"20 K","x":1.93,"y":8.6},{"panel":"D","curve":"20 K","x":2.10,"y":9.9},{"panel":"D","curve":"20 K","x":2.27,"y":11.6},{"panel":"D","curve":"20 K","x":2.40,"y":12.8},{"panel":"D","curve":"20 K","x":2.47,"y":13.1},{"panel":"D","curve":"20 K","x":2.53,"y":13.2},{"panel":"D","curve":"20 K","x":2.58,"y":13.1},{"panel":"D","curve":"20 K","x":2.63,"y":12.9},{"panel":"D","curve":"20 K","x":2.68,"y":12.5},{"panel":"D","curve":"20 K","x":2.73,"y":11.9},{"panel":"D","curve":"20 K","x":2.78,"y":11.0},{"panel":"D","curve":"20 K","x":2.83,"y":9.9},{"panel":"D","curve":"20 K","x":2.87,"y":8.8},{"panel":"D","curve":"20 K","x":2.90,"y":7.9},{"panel":"D","curve":"20 K","x":2.95,"y":6.3},{"panel":"D","curve":"20 K","x":3.00,"y":4.3},{"panel":"D","curve":"20 K","x":3.07,"y":2.3},{"panel":"D","curve":"20 K","x":3.15,"y":0.8},{"panel":"D","curve":"20 K","x":3.27,"y":0.1},{"panel":"D","curve":"20 K","x":3.37,"y":-0.1},{"panel":"D","curve":"20 K","x":3.47,"y":0.4},{"panel":"D","curve":"20 K","x":3.57,"y":1.4},{"panel":"D","curve":"20 K","x":3.70,"y":2.8},{"panel":"D","curve":"20 K","x":3.87,"y":4.3},{"panel":"D","curve":"20 K","x":4.03,"y":5.3},{"panel":"D","curve":"20 K","x":4.23,"y":5.9},{"panel":"D","curve":"20 K","x":4.43,"y":6.2},{"panel":"D","curve":"20 K","x":4.63,"y":6.3},{"panel":"D","curve":"20 K","x":4.90,"y":6.3},{"panel":"D","curve":"20 K","x":5.23,"y":6.3},{"panel":"D","curve":"20 K","x":5.80,"y":6.3}
]
},
"vconcat": [
{
"width": 580, "height": 288,
"encoding": {
"x": {"field": "x", "type": "quantitative", "scale": {"domain": [0, 5.8], "nice": false, "zero": false}, "axis": null},
"y": {"field": "y", "type": "quantitative", "scale": {"domain": [0, 28.8], "nice": false, "zero": false}, "axis": null}
},
"layer": [
{"data": {"name": "curves"}, "transform": [{"filter": "datum.panel == 'A'"}], "mark": {"type": "line", "stroke": "black", "strokeWidth": 2, "interpolate": "monotone", "clip": true}, "encoding": {"detail": {"field": "curve"}}},
{"data": {"name": "labels"}, "transform": [{"filter": "datum.panel == 'A' && datum.kind == 'curve'"}], "mark": {"type": "text", "font": "Liberation Sans", "fontSize": 18, "align": "right", "baseline": "alphabetic", "color": "black"}, "encoding": {"text": {"field": "text"}}},
{"data": {"name": "labels"}, "transform": [{"filter": "datum.panel == 'A' && datum.kind == 'letter'"}], "mark": {"type": "text", "font": "Liberation Sans", "fontSize": 24, "fontWeight": "bold", "align": "left", "baseline": "alphabetic", "color": "black"}, "encoding": {"text": {"field": "text"}}},
{"data": {"name": "labels"}, "transform": [{"filter": "datum.panel == 'A' && datum.kind == 'scale'"}], "mark": {"type": "text", "font": "Liberation Sans", "fontSize": 18, "align": "center", "baseline": "alphabetic", "color": "black"}, "encoding": {"text": {"field": "text"}}},
{"data": {"name": "bars"}, "transform": [{"filter": "datum.panel == 'A'"}], "mark": {"type": "rule", "color": "black", "strokeWidth": 1.3}, "encoding": {"x2": {"field": "x2"}}},
{"data": {"name": "bars"}, "transform": [{"filter": "datum.panel == 'A'"}], "mark": {"type": "point", "shape": "M0,0L-2,-0.45L-2,0.45Z", "size": 225, "filled": true, "color": "black", "opacity": 1, "strokeWidth": 0}, "encoding": {"x": {"field": "x2", "type": "quantitative", "scale": {"domain": [0, 5.8], "nice": false, "zero": false}, "axis": null}}}
]
},
{
"width": 580, "height": 289,
"encoding": {
"x": {"field": "x", "type": "quantitative", "scale": {"domain": [0, 5.8], "nice": false, "zero": false}, "axis": null},
"y": {"field": "y", "type": "quantitative", "scale": {"domain": [0, 28.9], "nice": false, "zero": false}, "axis": null}
},
"layer": [
{"data": {"name": "curves"}, "transform": [{"filter": "datum.panel == 'B' && datum.curve != 'experimental'"}], "mark": {"type": "line", "stroke": "black", "strokeWidth": 1.9, "strokeDash": [2, 5.5], "interpolate": "monotone", "clip": true}, "encoding": {"detail": {"field": "curve"}}},
{"data": {"name": "curves"}, "transform": [{"filter": "datum.panel == 'B' && datum.curve == 'experimental'"}], "mark": {"type": "line", "stroke": "black", "strokeWidth": 1.9, "interpolate": "monotone", "clip": true}, "encoding": {"detail": {"field": "curve"}}},
{"data": {"name": "labels"}, "transform": [{"filter": "datum.panel == 'B' && datum.kind == 'curve'"}], "mark": {"type": "text", "font": "Liberation Sans", "fontSize": 18, "align": "right", "baseline": "alphabetic", "color": "black"}, "encoding": {"text": {"field": "text"}}},
{"data": {"name": "labels"}, "transform": [{"filter": "datum.panel == 'B' && datum.kind == 'letter'"}], "mark": {"type": "text", "font": "Liberation Sans", "fontSize": 24, "fontWeight": "bold", "align": "left", "baseline": "alphabetic", "color": "black"}, "encoding": {"text": {"field": "text"}}},
{"data": {"name": "labels"}, "transform": [{"filter": "datum.panel == 'B' && datum.kind == 'scale'"}], "mark": {"type": "text", "font": "Liberation Sans", "fontSize": 18, "align": "center", "baseline": "alphabetic", "color": "black"}, "encoding": {"text": {"field": "text"}}},
{"data": {"name": "bars"}, "transform": [{"filter": "datum.panel == 'B'"}], "mark": {"type": "rule", "color": "black", "strokeWidth": 1.3}, "encoding": {"x2": {"field": "x2"}}},
{"data": {"name": "bars"}, "transform": [{"filter": "datum.panel == 'B'"}], "mark": {"type": "point", "shape": "M0,0L-2,-0.45L-2,0.45Z", "size": 225, "filled": true, "color": "black", "opacity": 1, "strokeWidth": 0}, "encoding": {"x": {"field": "x2", "type": "quantitative", "scale": {"domain": [0, 5.8], "nice": false, "zero": false}, "axis": null}}}
]
},
{
"width": 580, "height": 295,
"encoding": {
"x": {"field": "x", "type": "quantitative", "scale": {"domain": [0, 5.8], "nice": false, "zero": false}, "axis": null},
"y": {"field": "y", "type": "quantitative", "scale": {"domain": [0, 29.5], "nice": false, "zero": false}, "axis": null}
},
"layer": [
{"data": {"name": "curves"}, "transform": [{"filter": "datum.panel == 'C'"}], "mark": {"type": "line", "stroke": "black", "strokeWidth": 1.6, "interpolate": "monotone", "clip": true}, "encoding": {"detail": {"field": "curve"}}},
{"data": {"name": "labels"}, "transform": [{"filter": "datum.panel == 'C' && datum.kind == 'curve'"}], "mark": {"type": "text", "font": "Liberation Sans", "fontSize": 18, "align": "right", "baseline": "alphabetic", "color": "black"}, "encoding": {"text": {"field": "text"}}},
{"data": {"name": "labels"}, "transform": [{"filter": "datum.panel == 'C' && datum.kind == 'note'"}], "mark": {"type": "text", "font": "Liberation Sans", "fontSize": 18, "align": "left", "baseline": "alphabetic", "color": "black"}, "encoding": {"text": {"field": "text"}}},
{"data": {"name": "labels"}, "transform": [{"filter": "datum.panel == 'C' && datum.kind == 'letter'"}], "mark": {"type": "text", "font": "Liberation Sans", "fontSize": 24, "fontWeight": "bold", "align": "left", "baseline": "alphabetic", "color": "black"}, "encoding": {"text": {"field": "text"}}},
{"data": {"name": "labels"}, "transform": [{"filter": "datum.panel == 'C' && datum.kind == 'scale'"}], "mark": {"type": "text", "font": "Liberation Sans", "fontSize": 18, "align": "center", "baseline": "alphabetic", "color": "black"}, "encoding": {"text": {"field": "text"}}},
{"data": {"name": "bars"}, "transform": [{"filter": "datum.panel == 'C'"}], "mark": {"type": "rule", "color": "black", "strokeWidth": 1.3}, "encoding": {"x2": {"field": "x2"}}},
{"data": {"name": "bars"}, "transform": [{"filter": "datum.panel == 'C'"}], "mark": {"type": "point", "shape": "M0,0L-2,-0.45L-2,0.45Z", "size": 225, "filled": true, "color": "black", "opacity": 1, "strokeWidth": 0}, "encoding": {"x": {"field": "x2", "type": "quantitative", "scale": {"domain": [0, 5.8], "nice": false, "zero": false}, "axis": null}}},
{"data": {"name": "vbars"}, "mark": {"type": "rule", "color": "black", "strokeWidth": 1.3}, "encoding": {"y2": {"field": "y2"}}},
{"data": {"name": "vbars"}, "mark": {"type": "point", "shape": "M0,0L-0.8,-2L0.8,-2Z", "size": 36, "filled": true, "color": "black", "opacity": 1, "strokeWidth": 0}, "encoding": {}},
{"data": {"name": "vbars"}, "mark": {"type": "point", "shape": "M0,0L-0.8,2L0.8,2Z", "size": 36, "filled": true, "color": "black", "opacity": 1, "strokeWidth": 0}, "encoding": {"y": {"field": "y2", "type": "quantitative", "scale": {"domain": [0, 29.5], "nice": false, "zero": false}, "axis": null}}}
]
},
{
"width": 580, "height": 279,
"encoding": {
"x": {"field": "x", "type": "quantitative", "scale": {"domain": [0, 5.8], "nice": false, "zero": false}, "axis": null},
"y": {"field": "y", "type": "quantitative", "scale": {"domain": [0, 27.9], "nice": false, "zero": false}, "axis": null}
},
"layer": [
{"data": {"name": "curves"}, "transform": [{"filter": "datum.panel == 'D'"}], "mark": {"type": "line", "stroke": "black", "strokeWidth": 1.4, "interpolate": "monotone", "clip": true}, "encoding": {"detail": {"field": "curve"}}},
{"data": {"name": "labels"}, "transform": [{"filter": "datum.panel == 'D' && datum.kind == 'curve'"}], "mark": {"type": "text", "font": "Liberation Sans", "fontSize": 18, "align": "right", "baseline": "alphabetic", "color": "black"}, "encoding": {"text": {"field": "text"}}},
{"data": {"name": "labels"}, "transform": [{"filter": "datum.panel == 'D' && datum.kind == 'letter'"}], "mark": {"type": "text", "font": "Liberation Sans", "fontSize": 24, "fontWeight": "bold", "align": "left", "baseline": "alphabetic", "color": "black"}, "encoding": {"text": {"field": "text"}}},
{"data": {"name": "labels"}, "transform": [{"filter": "datum.panel == 'D' && datum.kind == 'scale'"}], "mark": {"type": "text", "font": "Liberation Sans", "fontSize": 18, "align": "center", "baseline": "alphabetic", "color": "black"}, "encoding": {"text": {"field": "text"}}},
{"data": {"name": "bars"}, "transform": [{"filter": "datum.panel == 'D'"}], "mark": {"type": "rule", "color": "black", "strokeWidth": 1.3}, "encoding": {"x2": {"field": "x2"}}},
{"data": {"name": "bars"}, "transform": [{"filter": "datum.panel == 'D'"}], "mark": {"type": "point", "shape": "M0,0L-2,-0.45L-2,0.45Z", "size": 225, "filled": true, "color": "black", "opacity": 1, "strokeWidth": 0}, "encoding": {"x": {"field": "x2", "type": "quantitative", "scale": {"domain": [0, 5.8], "nice": false, "zero": false}, "axis": null}}}
]
}
]
}
